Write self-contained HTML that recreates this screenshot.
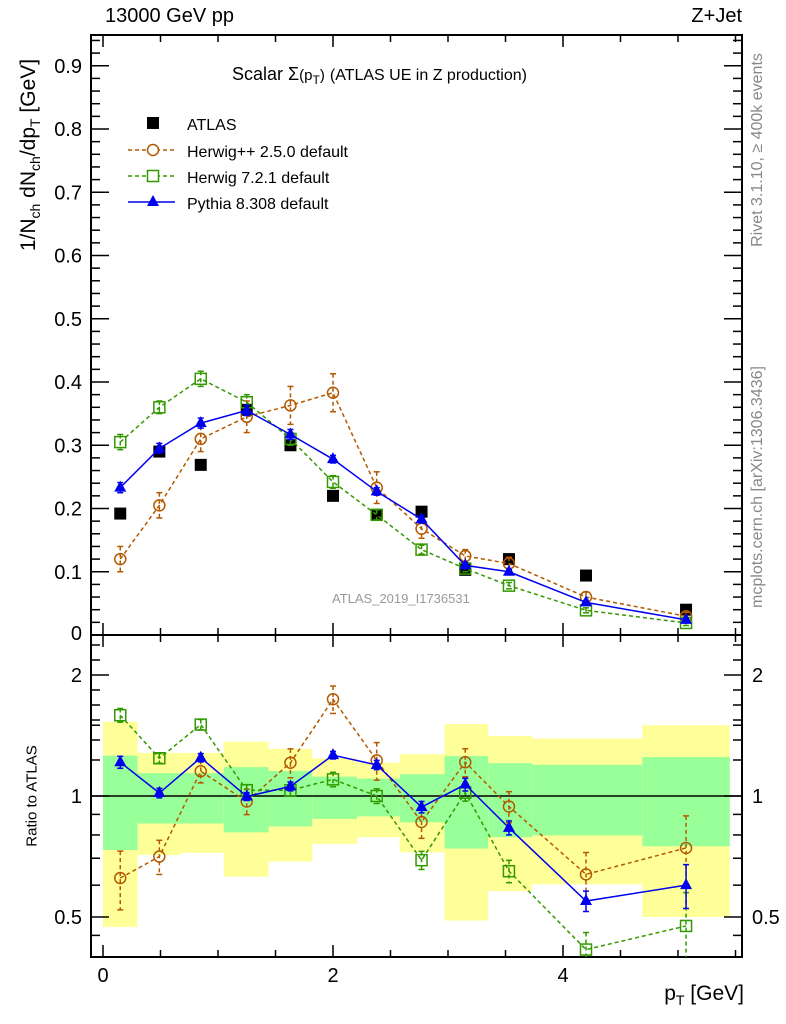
<!DOCTYPE html>
<html><head><meta charset="utf-8"><style>
html,body{margin:0;padding:0;background:#fff;}
svg{display:block;font-family:"Liberation Sans",sans-serif;}
</style></head><body>
<svg id="c" width="786" height="1024" viewBox="0 0 786 1024"></svg>
<script>
const xcenters=[0.15,0.49,0.85,1.25,1.63,2.0,2.38,2.77,3.15,3.53,4.2,5.07];
const binEdges=[0,0.3,0.67,1.05,1.44,1.82,2.21,2.58,2.97,3.35,3.73,4.69,5.45];
const atlas=[0.192,0.29,0.269,0.356,0.30,0.22,0.19,0.195,0.103,0.12,0.094,0.04];
const herwigpp=[0.12,0.205,0.31,0.345,0.363,0.383,0.233,0.168,0.125,0.113,0.06,0.0297];
const herwigppErr=[0.02,0.02,0.02,0.025,0.03,0.03,0.025,0.015,0.01,0.01,0.008,0.006];
const herwig7=[0.305,0.36,0.405,0.368,0.31,0.242,0.19,0.135,0.105,0.078,0.039,0.019];
const herwig7Err=[0.012,0.01,0.012,0.012,0.01,0.01,0.008,0.007,0.005,0.005,0.004,0.004];
const pythia=[0.233,0.295,0.335,0.355,0.317,0.278,0.227,0.183,0.11,0.1,0.0515,0.024];
const pythiaErr=[0.008,0.008,0.008,0.008,0.008,0.006,0.006,0.006,0.004,0.004,0.003,0.003];
const yellowHi=[1.53,1.28,1.28,1.365,1.31,1.24,1.21,1.27,1.51,1.41,1.39,1.5];
const yellowLo=[0.472,0.713,0.722,0.63,0.687,0.76,0.79,0.724,0.49,0.58,0.603,0.5];
const greenHi=[1.26,1.14,1.14,1.18,1.154,1.117,1.105,1.133,1.257,1.207,1.196,1.25];
const greenLo=[0.734,0.854,0.854,0.812,0.84,0.877,0.89,0.86,0.74,0.79,0.798,0.75];
const mainTicks=[0.1,0.2,0.3,0.4,0.5,0.6,0.7,0.8,0.9];
const xTicks=[0,2,4];
const ratioTicks=[0.5,1,2];

const L=91,R=742,T=35,MB=635,RB=957;
const X=v=>103+v*115;
const Y=v=>MB-v*632.5;
const YR=r=>796-121*Math.log2(r);
const svg=document.getElementById('c');
const NS='http://www.w3.org/2000/svg';
function el(tag,attrs,parent){const e=document.createElementNS(NS,tag);for(const k in attrs)e.setAttribute(k,attrs[k]);(parent||svg).appendChild(e);return e;}
function txt(s,attrs,parent){const e=el('text',attrs,parent);e.textContent=s;return e;}

const defs=el('defs',{});
const cp=el('clipPath',{id:'rclip'},defs);
el('rect',{x:L,y:MB,width:R-L,height:RB-MB},cp);
const cm=el('clipPath',{id:'mclip'},defs);
el('rect',{x:L,y:T,width:R-L,height:MB-T},cm);

const bands=el('g',{});


for(let i=0;i<atlas.length;i++){
  const x0=X(binEdges[i]),x1=X(binEdges[i+1]);
  const y1=el('rect',{x:x0,y:YR(yellowHi[i]),width:x1-x0,height:YR(yellowLo[i])-YR(yellowHi[i]),fill:'#ffff99'},bands);
  
  
  const g1=el('rect',{x:x0,y:YR(greenHi[i]),width:x1-x0,height:YR(greenLo[i])-YR(greenHi[i]),fill:'#99ff99'},bands);
  
  
}
const one=el('line',{x1:L,x2:R,y1:YR(1),y2:YR(1),stroke:'#000','stroke-width':1.5});



el('rect',{x:L,y:T,width:R-L,height:MB-T,fill:'none',stroke:'#000','stroke-width':2});
el('rect',{x:L,y:MB,width:R-L,height:RB-MB,fill:'none',stroke:'#000','stroke-width':2});

for(let v=0;v<=5.5;v+=0.5){
  const maj=Math.abs(v%2)<1e-9;const len=maj?12:7;const x=X(v);
  for(const [yb,dir] of [[MB,-1],[T,1],[RB,-1],[MB,1]]){
    el('line',{x1:x,x2:x,y1:yb,y2:yb+dir*len,stroke:'#000','stroke-width':1.5});
  }
}
for(const t of xTicks){const e=txt(String(t),{x:X(t),y:982,'font-size':20,'text-anchor':'middle'});

}
for(let k=1;k<=47;k++){const v=k*0.02;const maj=k%5===0;const len=maj?18:9;const y=Y(v);if(y<T)continue;
 el('line',{x1:L,x2:L+len,y1:y,y2:y,stroke:'#000','stroke-width':1.5});
 el('line',{x1:R,x2:R-len,y1:y,y2:y,stroke:'#000','stroke-width':1.5});}
for(const t of mainTicks){const e=txt(t.toFixed(1),{x:82,y:Y(t)+7,'font-size':20,'text-anchor':'end'});

}
txt('0',{x:82,y:640,'font-size':20,'text-anchor':'end'});
for(const r of [0.45,0.5,0.6,0.7,0.8,0.9,1,1.5,2]){const y=YR(r);const maj=[0.5,1,2].includes(r);const len=maj?18:9;
 el('line',{x1:L,x2:L+len,y1:y,y2:y,stroke:'#000','stroke-width':1.5});
 el('line',{x1:R,x2:R-len,y1:y,y2:y,stroke:'#000','stroke-width':1.5});}
for(const y of [645,660,690,705,720,740,760]){el('line',{x1:L,x2:L+9,y1:y,y2:y,stroke:'#000','stroke-width':1.5});el('line',{x1:R,x2:R-9,y1:y,y2:y,stroke:'#000','stroke-width':1.5});}
for(const t of ratioTicks){const s=String(t);
 const a=txt(s,{x:82,y:YR(t)+7,'font-size':20,'text-anchor':'end'});
 
 
 const b=txt(s,{x:752,y:YR(t)+7,'font-size':20,'text-anchor':'start'});
 
 }

function series(name,vals,errs,color,dash,marker,ratio){
  const g=el('g',{'clip-path':ratio?'url(#rclip)':'url(#mclip)'});
  
  
  const yf=ratio?(i=>YR(vals[i]/atlas[i])):(i=>Y(vals[i]));
  const ef=ratio?(i=>errs[i]/atlas[i]):(i=>errs[i]);
  const yv=ratio?(i=>vals[i]/atlas[i]):(i=>vals[i]);
  const yy=ratio?YR:Y;
  let d='';
  for(let i=0;i<vals.length;i++)d+=(i?'L':'M')+X(xcenters[i])+','+yf(i);
  el('path',{d,fill:'none',stroke:color,'stroke-width':1.5,'stroke-dasharray':dash||'none'},g);
  for(let i=0;i<vals.length;i++){
    const x=X(xcenters[i]),y=yf(i);
    const yt=yy(yv(i)+ef(i)),yb=yy(Math.max(yv(i)-ef(i),0.01));
    el('line',{x1:x,x2:x,y1:yt,y2:yb,stroke:color,'stroke-width':1.5,'stroke-dasharray':dash||'none'},g);
    el('line',{x1:x-3,x2:x+3,y1:yt,y2:yt,stroke:color,'stroke-width':1.5},g);
    el('line',{x1:x-3,x2:x+3,y1:yb,y2:yb,stroke:color,'stroke-width':1.5},g);
    let m;
    if(marker==='circle')m=el('circle',{cx:x,cy:y,r:5.5,fill:'#fff','fill-opacity':0,stroke:color,'stroke-width':1.5},g);
    else if(marker==='osq')m=el('rect',{x:x-5.5,y:y-5.5,width:11,height:11,fill:'none',stroke:color,'stroke-width':1.5},g);
    else m=el('path',{d:`M${x},${y-7}L${x+6},${y+4}L${x-6},${y+4}Z`,fill:color},g);
    
    
  }
}
const ga=el('g',{});


for(let i=0;i<atlas.length;i++){
  const m=el('rect',{x:X(xcenters[i])-6,y:Y(atlas[i])-6,width:12,height:12,fill:'#000'},ga);
  
  
}
for(const r of [false,true]){
 series('herwigpp',herwigpp,herwigppErr,'#b35900','4,3','circle',r);
 series('herwig7',herwig7,herwig7Err,'#339900','4,3','osq',r);
 series('pythia',pythia,pythiaErr,'#0000ee',null,'tri',r);
}

const lg=el('g',{});


const LY=[124,151,177,203];
el('rect',{x:147,y:LY[0]-7,width:12,height:12,fill:'#000'},lg);
el('line',{x1:128,x2:175,y1:LY[1]-1,y2:LY[1]-1,stroke:'#b35900','stroke-width':1.5,'stroke-dasharray':'4,3'},lg);
el('circle',{cx:153,cy:LY[1]-1,r:5.5,fill:'#fff',stroke:'#b35900','stroke-width':1.5},lg);
el('line',{x1:128,x2:175,y1:LY[2]-1,y2:LY[2]-1,stroke:'#339900','stroke-width':1.5,'stroke-dasharray':'4,3'},lg);
el('rect',{x:147.5,y:LY[2]-6.5,width:11,height:11,fill:'#fff',stroke:'#339900','stroke-width':1.5},lg);
el('line',{x1:128,x2:175,y1:LY[3]-1,y2:LY[3]-1,stroke:'#0000ee','stroke-width':1.5},lg);
el('path',{d:`M153,${LY[3]-8}L159,${LY[3]+3}L147,${LY[3]+3}Z`,fill:'#0000ee'},lg);
const names=['ATLAS','Herwig++ 2.5.0 default','Herwig 7.2.1 default','Pythia 8.308 default'];
names.forEach((n,i)=>{const e=txt(n,{x:187,y:LY[i]+6,'font-size':16},lg);

});
</script>
<div style="position:absolute;left:0;top:0;width:786px;height:1024px;pointer-events:none;font-family:'Liberation Sans',sans-serif;">
<div style="position:absolute;left:105px;top:5px;font-size:20px;">13000 GeV pp</div>
<div style="position:absolute;right:44px;top:5px;font-size:20px;">Z+Jet</div>
<div style="position:absolute;left:232px;top:64px;font-size:18px;white-space:nowrap;">Scalar Σ<span style="font-size:15px">(p<sub style="font-size:12px">T</sub>)</span> <span style="font-size:16px">(ATLAS UE in Z production)</span></div>
<div style="position:absolute;left:332px;top:591px;font-size:13px;color:#999;">ATLAS_2019_I1736531</div>
<div style="position:absolute;left:30px;top:155px;width:0;height:0;">
 <div style="position:absolute;transform:translate(-50%,-50%) rotate(-90deg);white-space:nowrap;font-size:21px;">1/N<sub style="font-size:14px">ch</sub> dN<sub style="font-size:14px">ch</sub>/dp<sub style="font-size:14px">T</sub> [GeV]</div></div>
<div style="position:absolute;left:32px;top:796px;width:0;height:0;">
 <div style="position:absolute;transform:translate(-50%,-50%) rotate(-90deg);white-space:nowrap;font-size:15px;">Ratio to ATLAS</div></div>
<div style="position:absolute;left:758px;top:150px;width:0;height:0;">
 <div style="position:absolute;transform:translate(-50%,-50%) rotate(-90deg);white-space:nowrap;font-size:16px;color:#888;">Rivet 3.1.10, ≥ 400k events</div></div>
<div style="position:absolute;left:758px;top:487px;width:0;height:0;">
 <div style="position:absolute;transform:translate(-50%,-50%) rotate(-90deg);white-space:nowrap;font-size:16px;color:#888;">mcplots.cern.ch [arXiv:1306.3436]</div></div>
<div style="position:absolute;right:42px;top:982px;font-size:21px;white-space:nowrap;">p<sub style="font-size:14px">T</sub> [GeV]</div>
</div>
</body></html>
